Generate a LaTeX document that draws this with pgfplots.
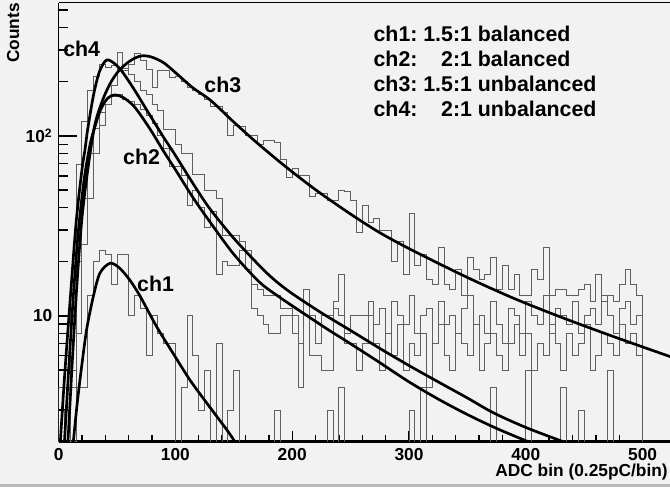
\documentclass[border=0pt]{standalone}
\usepackage{pgfplots}
\pgfplotsset{compat=1.18}
\usepackage{pgfplotstable}
\usepackage{fontspec}
\setmainfont{Liberation Sans}
\definecolor{canvas}{RGB}{242,242,242}
\definecolor{histc}{RGB}{95,95,95}

% bins of 5 ADC counts, values below 2 lie under the axis
\pgfplotstableread{
x h1 h2 h3 h4
0 1 1 1 1
0 4 1 1 1
5 4 1 1 3
10 4 5 2 14
15 4 20 8 69
20 4 45 25 120
25 13 80 45 180
30 20 110 80 215
35 23 135 115 250
40 22 150 150 240
45 15 165 190 245
50 22 170 290 240
55 22 160 230 236
60 10 155 250 220
65 13 150 287 200
70 11 140 264 180
75 6 130 233 170
80 10 118 185 150
85 8 100 232 139
90 7 85 232 108
95 7 68 210 108
100 1 68 215 90
105 4 60 200 80
110 10 41 187 80
115 6 50 180 61
120 3 40 171 61
125 5 31 160 50
130 1 38 146 50
135 7 17 145 45
140 1 20 135 28
145 3 19 101 28
150 5 19 115 28
155 1 23 113 26
160 1 18 101 23
165 1 11 101 15
170 1 10 90 14
175 1 9 94 13
180 1 8 94 13
185 3 8 92 13
190 1 10 74 11
195 1 10 59 11
200 1 8 66 10
205 1 4 60 7
210 1 10 60 14
215 1 6 46 10
220 1 6 48 7
225 1 5 48 10
230 3 5 44 10
235 1 11 44 12
240 4 10 50 17
245 1 7 49 8
250 1 7 44 10
255 1 5 29 10
260 1 7 41 10
265 1 10 33 12
270 1 7 35 9
275 1 5 30 11
280 1 8 30 8
285 1 6 20 12
290 1 9 26 10
295 1 5 17 9
300 3 7 37 13
305 1 6 19 8
310 4 8 22 10
315 1 4 16 11
320 1 7 15 7
325 1 9 24 12
330 1 6 15 9
335 1 5 14 10
340 1 8 18 8
345 1 7 13 11
350 1 6 21 13
355 1 9 18 9
360 1 5 16 10
365 1 7 17 8
370 4 8 21 12
375 1 6 14 9
380 1 5 19 7
385 1 7 14 11
390 1 9 17 10
395 1 6 13 8
400 5 8 13 12
405 1 5 18 10
410 1 7 16 9
415 1 6 24 13
420 1 9 13 8
425 1 7 14 11
430 4 5 14 10
435 1 8 13 9
440 1 6 13 12
445 3 7 14 8
450 1 9 15 10
455 1 5 12 11
460 1 6 17 9
465 1 8 12 13
470 5 7 13 10
475 1 6 12 8
480 1 9 15 11
485 1 7 18 12
490 1 8 15 9
495 1 6 13 10
500 1 1 1 1
}\adc

\begin{document}
\begin{tikzpicture}
\useasboundingbox (0,0) rectangle (502.5pt,365.25pt);
\fill[canvas] (0,0) rectangle (502.5pt,365.25pt);
\fill[gray!55] (0,0) rectangle (502.5pt,2.6pt);

% left axis with its (longer) ticks
\begin{axis}[
  at={(43.95pt,33.98pt)}, anchor=south west,
  scale only axis, width=459pt, height=329.25pt,
  xmin=0, xmax=524, ymode=log, ymin=2, ymax=550,
  axis x line=none, axis y line*=left,
  axis line style={black, line width=1.1pt, -},
  tick align=inside,
  every tick/.style={black, line width=1pt},
  ytick={10,100}, yticklabels={10,10\textsuperscript{2}},
  minor ytick={2,3,4,5,6,7,8,9,20,30,40,50,60,70,80,90,200,300,400,500},
  major tick length=13.5pt, minor tick length=6.75pt,
  yticklabel style={font=\fontsize{13}{15}\selectfont\bfseries, inner sep=0pt, anchor=east, xshift=-4.5pt},
]
\end{axis}

\begin{axis}[
  at={(43.95pt,33.98pt)}, anchor=south west,
  scale only axis, width=459pt, height=329.25pt,
  xmin=0, xmax=524, ymode=log, ymin=2, ymax=550,
  axis y line=none, axis x line*=bottom,
  axis line style={black, line width=2pt, -},
  tick align=inside,
  every tick/.style={black, line width=1pt},
  xtick={0,100,200,300,400,500}, xticklabels={0,100,200,300,400,500},
  minor x tick num=4,
  major tick length=8.25pt, minor tick length=4.9pt,
  xticklabel style={font=\fontsize{13}{15}\selectfont\bfseries, inner sep=0pt, anchor=north, yshift=-4.7pt},
]
\addplot[const plot mark left, histc, line width=0.7pt] table[x=x, y=h1] {\adc};
\addplot[const plot mark left, histc, line width=0.7pt] table[x=x, y=h2] {\adc};
\addplot[const plot mark left, histc, line width=0.7pt] table[x=x, y=h3] {\adc};
\addplot[const plot mark left, histc, line width=0.7pt] table[x=x, y=h4] {\adc};

% fits
\addplot[black, line width=2pt, smooth] coordinates {
(11,1.6) (12.6,2) (16,3.3) (20,5.4) (24,8.4) (29.7,12.8) (35.4,17.3) (44,19.6) (52,18.5)
(61,15.8) (70,12.8) (84,8.7) (98,6.2) (112.5,4.4) (127,3.27) (144,2.33) (151,2.0) (156,1.8)};
\addplot[black, line width=2pt, smooth] coordinates {
(4,1.6) (5,2) (9,5.5) (13,14) (17,30) (22,58) (27,90) (31,112) (36,140) (42,162) (48,169)
(55,164) (65,145) (78,110) (90,82) (100,65) (115,45.5) (130,33) (150,22) (172,15.4) (190,12.6)
(210,10.3) (230,8.45) (250,7.0) (275,5.5) (300,4.3) (325,3.45) (350,2.83) (375,2.37) (402,2.0) (410,1.9)};
\addplot[black, line width=2pt, smooth] coordinates {
(7,1.6) (8,2) (12,6) (16,16) (20,35) (25,65) (31,115) (38,160) (45,200) (52,232) (60,258)
(66,272) (72,279) (80,274) (90,255) (100,225) (115,185) (130,158) (150,119.4) (170,91.4) (195,67)
(221,49.7) (250,36.8) (275,29) (303.7,23) (350,16.35) (390,12.5) (430,9.85) (475,7.68) (524,5.93)};
\addplot[black, line width=2pt, smooth] coordinates {
(0.5,1.6) (1.5,2) (5,4.5) (10,12.5) (15,33) (20,65) (22.6,84) (25,110) (30,170) (35,228) (41,264)
(48,252) (55,225) (65,180) (78,131) (90,98) (100,78) (117,52) (130,39) (150,27) (172,19)
(185,15.8) (200,13.3) (225,10.4) (250,8.3) (275,6.6) (300,5.3) (325,4.3) (350,3.5) (372,2.9)
(400,2.4) (432,2.0) (440,1.9)};

% top frame line (right side is cut off in the original)
\draw[black, line width=1.1pt] (rel axis cs:0,1) -- (rel axis cs:1,1);

\begin{scope}[every node/.style={font=\fontsize{16}{18}\selectfont\bfseries, inner sep=0pt, anchor=base west}]
\node at (axis cs:3.8,275) {ch4};
\node at (axis cs:124.6,175) {ch3};
\node at (axis cs:55.1,69) {ch2};
\node at (axis cs:67.1,13.6) {ch1};
\end{scope}
\end{axis}

\node[anchor=base west, inner sep=0pt, font=\fontsize{16}{18.75}\selectfont\bfseries] at (280pt,334pt)
 {\begin{tabular}[t]{@{}l@{\ }r@{\ }l@{}}
 ch1: & 1.5:1 & balanced\\
 ch2: & 2:1 & balanced\\
 ch3: & 1.5:1 & unbalanced\\
 ch4: & 2:1 & unbalanced
 \end{tabular}};
\node[rotate=90, anchor=base east, inner sep=0pt, font=\fontsize{13}{15}\selectfont\bfseries] at (14.25pt,363pt) {Counts};
\node[anchor=base east, inner sep=0pt, font=\fontsize{13}{15}\selectfont\bfseries] at (501pt,8.25pt) {ADC bin (0.25pC/bin)};
\end{tikzpicture}
\end{document}
